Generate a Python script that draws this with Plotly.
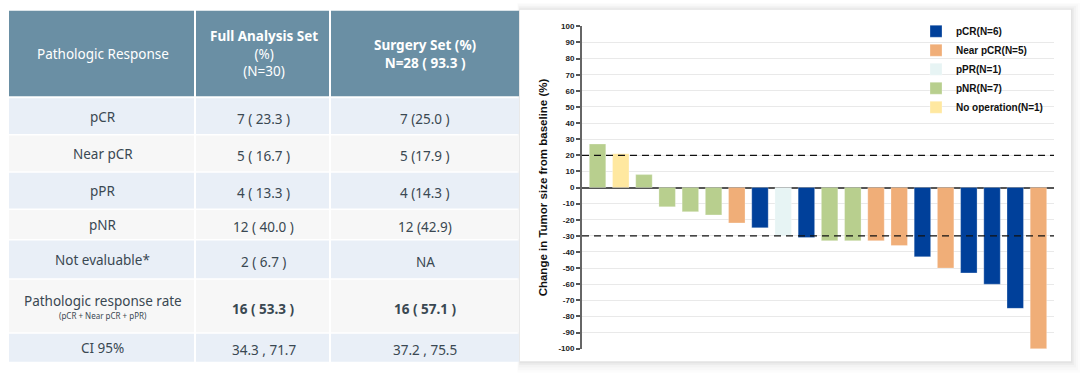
import plotly.graph_objects as go

# ---------------- data ----------------
# Table
table_header = ["Pathologic Response",
                "<b>Full Analysis Set</b><br>(%)<br>(N=30)",
                "<b>Surgery Set (%)<br>N=28 ( 93.3 )</b>"]
row_labels = ["pCR", "Near pCR", "pPR", "pNR", "Not evaluable*",
              "Pathologic response rate", "CI 95%"]
row_sublabels = ["", "", "", "", "", "(pCR + Near pCR + pPR)", ""]
fas_values = ["7 ( 23.3 )", "5 ( 16.7 )", "4 ( 13.3 )", "12 ( 40.0 )",
              "2 ( 6.7 )", "16 ( 53.3 )", "34.3 , 71.7"]
surgery_values = ["7 (25.0 )", "5 (17.9 )", "4 (14.3 )", "12 (42.9)",
                  "NA", "16 ( 57.1 )", "37.2 , 75.5"]
bold_rows = [False, False, False, False, False, True, False]

# Waterfall
tumor_change = [27, 21, 8, -12, -15, -17, -22, -25, -30, -31,
                -33, -33, -33, -36, -43, -50, -53, -60, -75, -100]
response = ["pNR", "No operation", "pNR", "pNR", "pNR", "pNR", "Near pCR", "pCR",
            "pPR", "pCR", "pNR", "pNR", "Near pCR", "Near pCR", "pCR",
            "Near pCR", "pCR", "pCR", "pCR", "Near pCR"]
categories = ["pCR", "Near pCR", "pPR", "pNR", "No operation"]
category_n = [6, 5, 1, 7, 1]
y_ticks = list(range(-100, 101, 10))
ref_lines = [20, -30]

# ---------------- styles / layout constants ----------------
W, H = 1080, 377
cat_colors = {"pCR": "#00409A", "Near pCR": "#F0AE78", "pPR": "#E7F4F4",
              "pNR": "#B8CF8E", "No operation": "#FFE8A0"}
TABLE_X0 = 9
col_widths = [187, 135, 188]
HEADER_Y0, HEADER_H = 8, 87
BODY_Y0 = 97
row_heights = [38, 38, 38, 31, 40, 55, 30]
header_fill = "#6A8FA4"
row_fills = ["#E9EFF7", "#F7F7F7"]
text_color = "#3A4852"
TFONT = "Noto Sans"
CFONT = "Liberation Sans"

CARD = (520, 7, 1071, 365)
PLOT_X = (582, 1054)
PLOT_Y = (23, 353)


def px(x):
    return x / W


def py(y):
    return 1 - y / H


fig = go.Figure()

# waterfall bars, one trace per response category
for cat, n in zip(categories, category_n):
    xs = [i for i, r in enumerate(response) if r == cat]
    ys = [tumor_change[i] for i in xs]
    fig.add_trace(go.Bar(
        x=xs, y=ys, name=f"{cat}(N={n})",
        marker=dict(color=cat_colors[cat],
                    line=dict(color="rgba(255,255,255,0.35)", width=0.8)),
        width=0.71, xaxis="x", yaxis="y"))

# helper trace for the pixel-unit table axes
fig.add_trace(go.Scatter(x=[0], y=[0], mode="markers", marker=dict(opacity=0),
                         xaxis="x2", yaxis="y2", showlegend=False, hoverinfo="skip"))

shapes = []
annotations = []

# card shadow + card (paper-referenced, beneath all subplots)
for k, a in [(9, 0.012), (7, 0.015), (5, 0.02), (3, 0.028), (1.5, 0.035)]:
    shapes.append(dict(type="rect", xref="paper", yref="paper", layer="below",
                       x0=px(CARD[0] - k * 0.3), x1=px(CARD[2] + k),
                       y0=py(CARD[3] + k * 1.3), y1=py(CARD[1] - k * 0.8),
                       fillcolor=f"rgba(0,0,0,{a})", line=dict(width=0)))
shapes.append(dict(type="rect", xref="paper", yref="paper", layer="below",
                   x0=px(CARD[0]), x1=px(CARD[2]), y0=py(CARD[3]), y1=py(CARD[1]),
                   fillcolor="white", line=dict(width=0)))

# table cells
col_edges = [TABLE_X0]
for w in col_widths:
    col_edges.append(col_edges[-1] + w)

for c in range(3):
    shapes.append(dict(type="rect", xref="x2", yref="y2", layer="below",
                       x0=col_edges[c], x1=col_edges[c + 1] - (2 if c < 2 else 0),
                       y0=HEADER_Y0, y1=HEADER_Y0 + HEADER_H,
                       fillcolor=header_fill, line=dict(width=0)))
    annotations.append(dict(xref="x2", yref="y2", x=(col_edges[c] + col_edges[c + 1]) / 2,
                            y=HEADER_Y0 + HEADER_H / 2, text=table_header[c],
                            showarrow=False, xanchor="center", yanchor="middle",
                            font=dict(family=TFONT, size=13.5, color="white")))

row_edges = [BODY_Y0]
for h in row_heights:
    row_edges.append(row_edges[-1] + h)

for r in range(len(row_labels)):
    y0, y1 = row_edges[r], row_edges[r + 1]
    yc = (y0 + y1) / 2
    for c in range(3):
        shapes.append(dict(type="rect", xref="x2", yref="y2", layer="below",
                           x0=col_edges[c], x1=col_edges[c + 1] - (2 if c < 2 else 0),
                           y0=y0, y1=y1 - 1.5,
                           fillcolor=row_fills[r % 2], line=dict(width=0)))
    if row_sublabels[r]:
        annotations.append(dict(xref="x2", yref="y2", x=(col_edges[0] + col_edges[1]) / 2,
                                y=yc - 6, text=row_labels[r], showarrow=False,
                                font=dict(family=TFONT, size=13.5, color=text_color)))
        annotations.append(dict(xref="x2", yref="y2", x=(col_edges[0] + col_edges[1]) / 2,
                                y=yc + 9, text=row_sublabels[r], showarrow=False,
                                font=dict(family=TFONT, size=8, color=text_color)))
    else:
        annotations.append(dict(xref="x2", yref="y2", x=(col_edges[0] + col_edges[1]) / 2,
                                y=yc, text=row_labels[r], showarrow=False,
                                font=dict(family=TFONT, size=13.5, color=text_color)))
    for c, vals in [(1, fas_values), (2, surgery_values)]:
        txt = f"<b>{vals[r]}</b>" if bold_rows[r] else vals[r]
        annotations.append(dict(xref="x2", yref="y2",
                                x=(col_edges[c] + col_edges[c + 1]) / 2, y=yc + 2,
                                text=txt, showarrow=False,
                                font=dict(family=TFONT, size=13.5, color=text_color)))

# reference dashed lines
for v in ref_lines:
    shapes.append(dict(type="line", xref="x domain", yref="y", x0=0, x1=1, y0=v, y1=v,
                       line=dict(color="#111", width=1.2, dash="7px,5px"), layer="above"))

fig.update_layout(
    width=W, height=H, margin=dict(l=0, r=0, t=0, b=0),
    paper_bgcolor="white", plot_bgcolor="rgba(0,0,0,0)",
    barmode="overlay", showlegend=True,
    shapes=shapes, annotations=annotations,
    xaxis=dict(domain=[px(PLOT_X[0]), px(PLOT_X[1])], range=[-0.67, 19.67],
               showticklabels=False, showgrid=False, zeroline=False, showline=False,
               ticks="", anchor="y", fixedrange=True),
    yaxis=dict(domain=[py(PLOT_Y[1]), py(PLOT_Y[0])], range=[-100.5, 100.5],
               tickvals=y_ticks, ticktext=[str(t) for t in y_ticks],
               tickfont=dict(family=CFONT, size=8, color="#222", weight="bold"),
               ticks="outside", ticklen=4, tickwidth=1.5, tickcolor="#555",
               showline=True, linecolor="#666", linewidth=2,
               showgrid=True, gridcolor="#E9E9E9", gridwidth=1,
               zeroline=True, zerolinecolor="#555", zerolinewidth=1.5,
               title=dict(text="Change in Tumor size from baseline (%)",
                          font=dict(family=CFONT, size=11.5, color="#111", weight="bold"),
                          standoff=8),
               anchor="x", fixedrange=True),
    xaxis2=dict(domain=[0, 1], range=[0, W], visible=False, anchor="y2", fixedrange=True),
    yaxis2=dict(domain=[0, 1], range=[H, 0], visible=False, anchor="x2", fixedrange=True),
    legend=dict(x=px(916), y=py(14), xanchor="left", yanchor="top",
                bgcolor="rgba(0,0,0,0)", traceorder="normal",
                font=dict(family=CFONT, size=10, color="#111", weight="bold"),
                itemwidth=30, tracegroupgap=0),
)

fig.write_html("out.html", config={"displayModeBar": False},
               post_script="document.body.style.margin='0';document.body.style.overflow='hidden';")
